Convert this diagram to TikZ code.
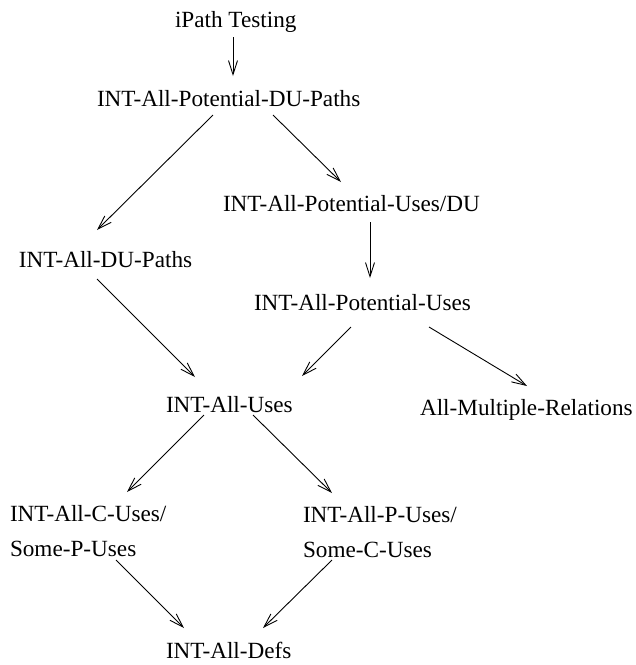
\documentclass[tikz,border=0pt]{standalone}
\usepackage{fontspec}
\setmainfont{Liberation Serif}
\usetikzlibrary{arrows.meta}
\tikzset{
  lbl/.style={anchor=base west, inner sep=0pt, outer sep=0pt, font=\fontsize{23.2}{35}\selectfont},
  conn/.style={draw=black, line width=0.9pt, -{Straight Barb[length=14pt,width=9pt,line width=0.9pt]}}
}
\begin{document}
\begin{tikzpicture}[x=1pt,y=-1pt]
\useasboundingbox (0,0) rectangle (636,665);
\node[lbl] (ipath)   at (175,27)  {iPath Testing};
\node[lbl] (dupaths) at (97,106)  {INT-All-Potential-DU-Paths};
\node[lbl] (pudu)    at (223,211) {INT-All-Potential-Uses/DU};
\node[lbl] (adup)    at (19,267)  {INT-All-DU-Paths};
\node[lbl] (pu)      at (254,310) {INT-All-Potential-Uses};
\node[lbl] (uses)    at (166,412) {INT-All-Uses};
\node[lbl] (amr)     at (420,415) {All-Multiple-Relations};
\node[lbl] (cuses)   at (10,521)  {\renewcommand\arraystretch{1}\begin{tabular}[t]{@{}l@{}}INT-All-C-Uses/\\Some-P-Uses\end{tabular}};
\node[lbl] (puses)   at (303,522) {\renewcommand\arraystretch{1}\begin{tabular}[t]{@{}l@{}}INT-All-P-Uses/\\Some-C-Uses\end{tabular}};
\node[lbl] (defs)    at (166,658) {INT-All-Defs};

\draw[conn] ([shift={(58,10)}]ipath.base west)    -- ([shift={(136,-30)}]dupaths.base west);
\draw[conn] ([shift={(116,9)}]dupaths.base west)  -- ([shift={(78,-37)}]adup.base west);
\draw[conn] ([shift={(176,9)}]dupaths.base west)  -- ([shift={(118,-29)}]pudu.base west);
\draw[conn] ([shift={(147,11)}]pudu.base west)    -- ([shift={(116,-32)}]pu.base west);
\draw[conn] ([shift={(78,12)}]adup.base west)     -- ([shift={(29,-35)}]uses.base west);
\draw[conn] ([shift={(97,17)}]pu.base west)       -- ([shift={(136,-36)}]uses.base west);
\draw[conn] ([shift={(175,17)}]pu.base west)      -- ([shift={(107,-29)}]amr.base west);
\draw[conn] ([shift={(38,3)}]uses.base west)      -- ([shift={(117,-29)}]cuses.base west);
\draw[conn] ([shift={(87,3)}]uses.base west)      -- ([shift={(29,-29)}]puses.base west);
\draw[conn] ([shift={(106,39)}]cuses.base west)   -- ([shift={(18,-30)}]defs.base west);
\draw[conn] ([shift={(29,38)}]puses.base west)    -- ([shift={(97,-30)}]defs.base west);
\end{tikzpicture}
\end{document}
